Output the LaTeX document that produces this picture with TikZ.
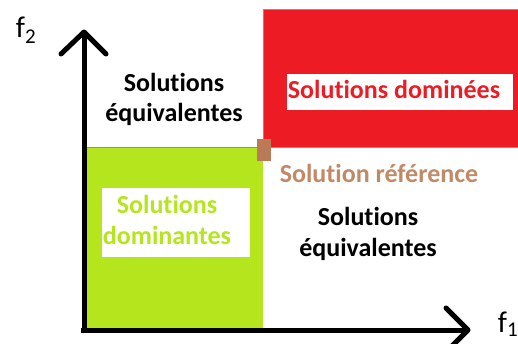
\documentclass[tikz,border=0pt]{standalone}
\usepackage{fontspec}
\setmainfont[Ligatures=NoCommon]{Carlito}
\definecolor{lime}{HTML}{B5E61D}
\definecolor{pred}{HTML}{ED1C24}
\definecolor{pbrown}{HTML}{B97A57}
\definecolor{tbrown}{HTML}{C08A66}
\definecolor{edgegray}{HTML}{909090}
\begin{document}
\begin{tikzpicture}[x=1pt,y=-1pt,
  lbl/.style={font=\bfseries\fontsize{26}{30.5}\selectfont, align=center, inner sep=0pt, anchor=base},
  axis/.style={line width=5pt, black},
  chev/.style={line width=5pt, black, line cap=round, line join=round}]
\useasboundingbox (0,0) rectangle (518,344);
% regions
\fill[lime] (86,148) rectangle (263,330);
\draw[edgegray, line width=1pt] (86,148) -- (263,148);
\draw[edgegray, line width=1pt, fill=pred] (263,10) rectangle (530,148);
\fill[white] (287,74) rectangle (513,110);
\fill[white] (102,188) rectangle (250,257);
\fill[pbrown] (257,139) rectangle (271,161);
% axes
\coordinate (o) at (84,330);
\coordinate (ytip) at (84,32);
\coordinate (xtip) at (468,330);
\draw[axis] (84,333) -- (ytip);
\draw[axis] (81,330) -- (xtip);
\draw[chev] (61,54) -- (ytip) -- (106,54);
\draw[chev] (446,308) -- (xtip) -- (446,352);
% labels
\node[font=\fontsize{30}{36}\selectfont, anchor=base, inner sep=0pt] (f2) at (26,38) {f\textsubscript{2}};
\node[font=\fontsize{30}{36}\selectfont, anchor=base, inner sep=0pt] (f1) at (508,332) {f\textsubscript{1}};
\node[lbl] (eq1) at (174,122) {Solutions\\équivalentes};
\node[lbl] (eq2) at (368,256) {Solutions\\équivalentes};
\node[lbl, text=pred] (dom) at (394,99) {Solutions dominées};
\node[lbl, text=tbrown] (ref) at (379,183) {Solution référence};
\node[lbl, text=lime] (dnt) at (167,244) {Solutions\\dominantes};
\end{tikzpicture}
\end{document}
